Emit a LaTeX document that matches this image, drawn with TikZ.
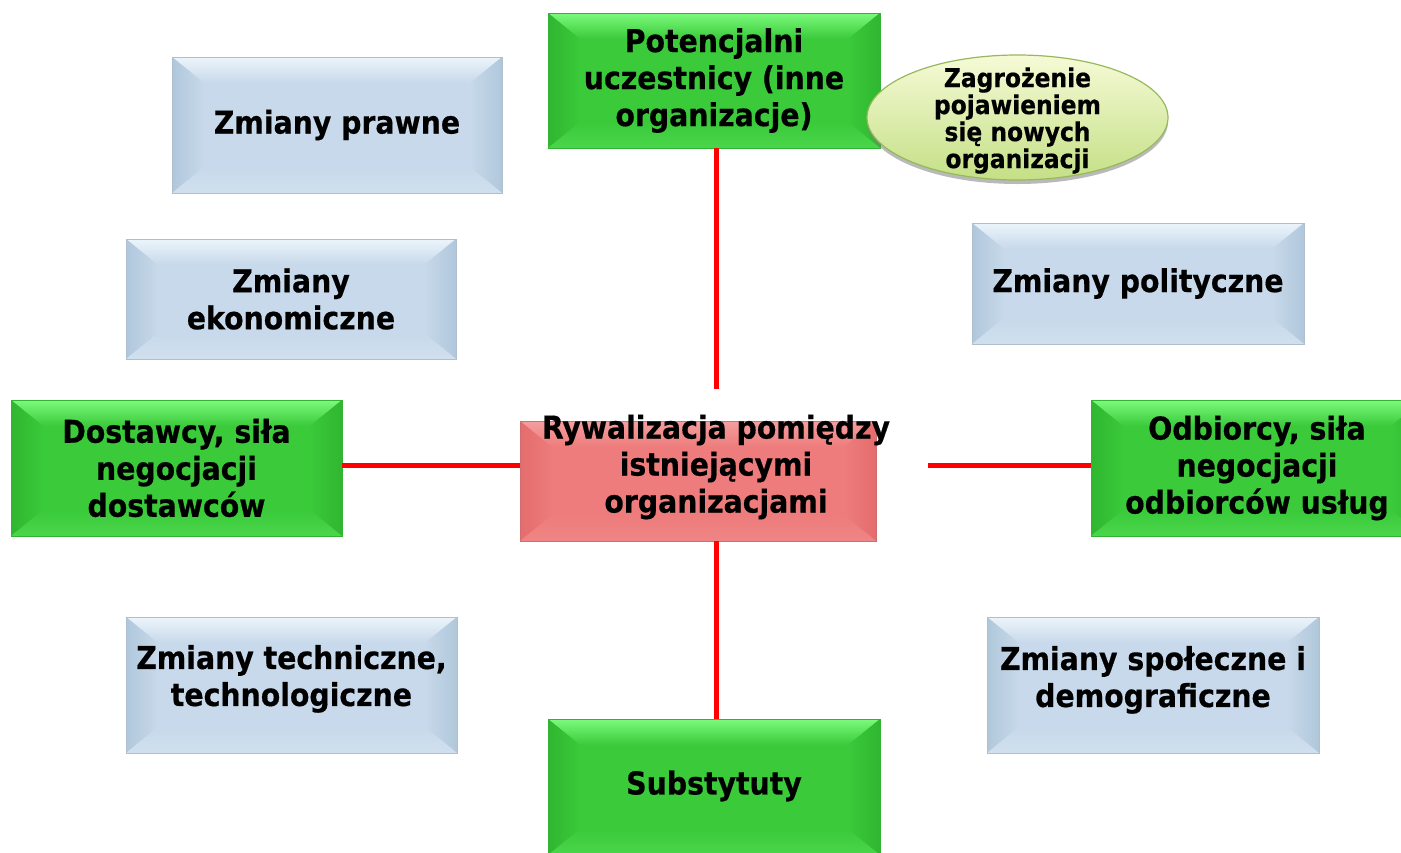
\documentclass[tikz,border=0pt]{standalone}
\usepackage{fontspec}
\setmainfont{DejaVu Sans Condensed}[BoldFeatures={FakeBold=0.5}]
\usetikzlibrary{shadows,shapes.geometric}

\definecolor{blueBase}{RGB}{199,217,234}
\definecolor{blueLight}{RGB}{236,244,251}
\definecolor{blueDark}{RGB}{176,199,219}
\definecolor{greenBase}{RGB}{58,202,58}
\definecolor{greenLight}{RGB}{124,250,124}
\definecolor{greenDark}{RGB}{48,182,48}
\definecolor{redBase}{RGB}{238,124,124}
\definecolor{redLight}{RGB}{245,158,158}
\definecolor{redDark}{RGB}{228,108,108}
\definecolor{ovalTop}{RGB}{246,250,214}
\definecolor{ovalBottom}{RGB}{196,224,134}
\definecolor{ovalEdge}{RGB}{150,185,90}
\definecolor{linkRed}{RGB}{255,0,0}

\tikzset{
  bevelbox/.style n args={3}{
    fill=#1, draw=#1!88!black, line width=0.6pt,
    inner sep=0pt, align=center, font=\bfseries\fontsize{31.5}{37}\selectfont,
    path picture={
      \coordinate (pnw) at (path picture bounding box.north west);
      \coordinate (pne) at (path picture bounding box.north east);
      \coordinate (psw) at (path picture bounding box.south west);
      \coordinate (pse) at (path picture bounding box.south east);
      % upper bevel, lit from above
      \shade[top color=#2, bottom color=#1]
        (pnw) -- (pne) -- ([xshift=-32pt,yshift=-26pt]pne)
        -- ([xshift=32pt,yshift=-26pt]pnw) -- cycle;
      % left bevel
      \shade[left color=#3, right color=#1]
        (pnw) -- ([xshift=32pt,yshift=-26pt]pnw)
        -- ([xshift=32pt,yshift=26pt]psw) -- (psw) -- cycle;
      % right bevel
      \shade[left color=#1, right color=#3]
        (pne) -- ([xshift=-32pt,yshift=-26pt]pne)
        -- ([xshift=-32pt,yshift=26pt]pse) -- (pse) -- cycle;
      % lower bevel
      \shade[top color=#1, bottom color=#1!75!#2]
        (psw) -- ([xshift=32pt,yshift=26pt]psw)
        -- ([xshift=-32pt,yshift=26pt]pse) -- (pse) -- cycle;
    }
  },
  factor/.style={bevelbox={blueBase}{blueLight}{blueDark}},
  force/.style={bevelbox={greenBase}{greenLight}{greenDark}},
  rivalry/.style={bevelbox={redBase}{redLight}{redDark}},
  threat/.style={ellipse, draw=ovalEdge, line width=1.2pt,
    top color=ovalTop, bottom color=ovalBottom,
    drop shadow={shadow xshift=0pt, shadow yshift=-4pt, opacity=0.55, fill=gray},
    inner sep=0pt},
  threat text/.style={align=center, inner sep=0pt,
    font=\bfseries\fontsize{26}{27}\selectfont},
  label text/.style={align=center, inner sep=0pt,
    font=\bfseries\fontsize{31.5}{37}\selectfont},
  link/.style={draw=linkRed, line width=5pt}
}

\begin{document}
\begin{tikzpicture}[x=1pt,y=-1pt]
  \useasboundingbox (0,0) rectangle (1401,852);

  % environmental factors
  \node[factor, minimum width=330pt, minimum height=136pt] (prawne) at (337,125) {Zmiany prawne};
  \node[factor, minimum width=330pt, minimum height=120pt] (ekonom) at (291,299) {Zmiany\\ekonomiczne};
  \node[factor, minimum width=332pt, minimum height=121pt] (polit) at (1138,283.5) {Zmiany polityczne};
  \node[factor, minimum width=331pt, minimum height=136pt] (techn) at (291.5,685) {Zmiany techniczne,\\technologiczne\\[-18pt]};
  \node[factor, minimum width=332pt, minimum height=136pt] (spol) at (1153,685) {Zmiany społeczne i\\demograficzne\\[-20pt]};

  % competitive forces
  \node[force, minimum width=332pt, minimum height=135pt] (potenc) at (714,80.5) {Potencjalni\\uczestnicy (inne\\organizacje)};
  \node[force, minimum width=331pt, minimum height=136pt] (dost) at (176.5,468) {Dostawcy, siła\\negocjacji\\dostawców};
  \node[force, minimum width=332pt, minimum height=136pt] (odb) at (1257,468) {Odbiorcy, siła\\negocjacji\\odbiorców usług};
  \node[force, minimum width=332pt, minimum height=136pt] (subst) at (714,787) {Substytuty\\[-28pt]};

  % central rivalry
  \node[rivalry, minimum width=356pt, minimum height=120pt] (centre) at (698,481) {};
  \node[label text] (centretext) at (716,467) {Rywalizacja pomiędzy\\istniejącymi\\organizacjami};

  % threat of new entrants
  \node[threat, minimum width=301pt, minimum height=125pt] (threat) at (1017.5,117.5) {};
  \node[threat text] (threattext) at (1017.5,120.5) {Zagrożenie\\pojawieniem\\się nowych\\organizacji};

  % connector ends beside the central caption
  \coordinate (ctop) at (716,389);
  \coordinate (cmid) at (716,465);
  \coordinate (cright) at (928,465);

  % connectors
  \draw[link] (ctop |- potenc.south) -- (ctop);
  \draw[link] (ctop |- centre.south) -- (ctop |- subst.north);
  \draw[link] (dost.east |- cmid) -- (centre.west |- cmid);
  \draw[link] (cright) -- (odb.west |- cright);
\end{tikzpicture}
\end{document}
